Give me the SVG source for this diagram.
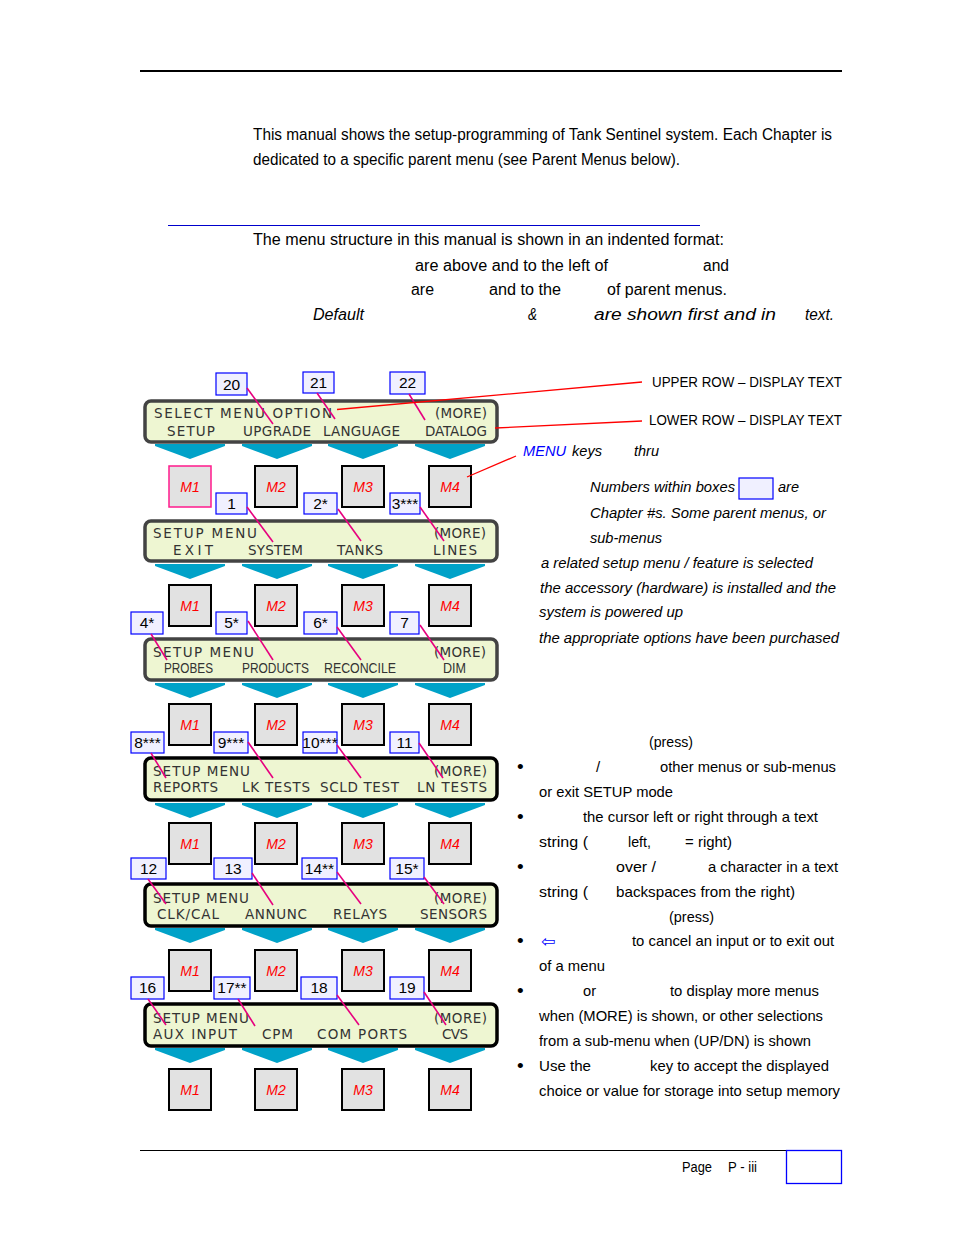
<svg xmlns="http://www.w3.org/2000/svg" xmlns:xlink="http://www.w3.org/1999/xlink" width="954" height="1235" viewBox="0 0 954 1235">
<style>
.bg{fill:#ffffff}
.panel{fill:#eef6d2;stroke:#434343;stroke-width:3.5}
.panelb{fill:#eef6d2;stroke:#000000;stroke-width:3.5}
.pt{font-family:"DejaVu Sans",sans-serif;font-size:13.5px;fill:#333333}
.pa{font-family:"Liberation Sans",Arial,sans-serif;font-size:14px;fill:#333333}
.mb{fill:#e2e2e2;stroke:#000000;stroke-width:2}
.mbp{fill:#e2e2e2;stroke:#ff1a8c;stroke-width:1.5}
.ml{font-family:"Liberation Sans",Arial,sans-serif;font-size:14px;font-style:italic;fill:#ff0000;text-anchor:middle}
.cb{fill:#f0f0ff;stroke:#0000ff;stroke-width:1.2}
.cl{font-family:"Liberation Sans",Arial,sans-serif;font-size:15.5px;fill:#000000;text-anchor:middle}
.chev{fill:#00a2c8}
.pink{stroke:#e6007e;stroke-width:1.6;fill:none}
.red{stroke:#ff0000;stroke-width:1.3;fill:none}
.tx{font-family:"Liberation Sans",Arial,sans-serif;font-size:16px;fill:#000000}
.ts{font-family:"Liberation Sans",Arial,sans-serif;font-size:15px;fill:#000000}
.bu{font-family:"Liberation Sans",Arial,sans-serif;font-size:19px;fill:#000000}
.ti{font-family:"Liberation Sans",Arial,sans-serif;font-size:15px;font-style:italic;fill:#000000}
.tf{font-family:"Liberation Sans",Arial,sans-serif;font-size:14px;fill:#000000}
</style>
<defs>
<polygon id="chev" class="chev" points="-35,0 35,0 35,2 0,15 -35,2"/>
</defs>
<rect class="bg" x="0" y="0" width="954" height="1235"/>

<!-- rules -->
<line x1="140" y1="71" x2="842" y2="71" stroke="#000" stroke-width="2"/>
<line x1="168" y1="225.5" x2="700" y2="225.5" stroke="#0000cc" stroke-width="1"/>
<line x1="140" y1="1150.5" x2="842" y2="1150.5" stroke="#000" stroke-width="1"/>
<rect x="786.5" y="1150.5" width="55" height="33" fill="none" stroke="#0000ff" stroke-width="1.3"/>

<!-- top text -->
<g id="intro">
<text class="tx" x="253" y="140" textLength="579" lengthAdjust="spacingAndGlyphs">This manual shows the setup-programming of Tank Sentinel system. Each Chapter is</text>
<text class="tx" x="253" y="165" textLength="427" lengthAdjust="spacingAndGlyphs">dedicated to a specific parent menu (see Parent Menus below).</text>
<text class="tx" x="253" y="245" textLength="471" lengthAdjust="spacingAndGlyphs">The menu structure in this manual is shown in an indented format:</text>
<text class="tx" x="415" y="271" textLength="193" lengthAdjust="spacingAndGlyphs">are above and to the left of</text>
<text class="tx" x="703" y="271" textLength="26" lengthAdjust="spacingAndGlyphs">and</text>
<text class="tx" x="411" y="295" textLength="23" lengthAdjust="spacingAndGlyphs">are</text>
<text class="tx" x="489" y="295" textLength="72" lengthAdjust="spacingAndGlyphs">and to the</text>
<text class="tx" x="607" y="295" textLength="120" lengthAdjust="spacingAndGlyphs">of parent menus.</text>
<text class="tx" x="313" y="320" font-style="italic" textLength="51" lengthAdjust="spacingAndGlyphs">Default</text>
<text class="tx" x="528" y="320" font-style="italic" textLength="9" lengthAdjust="spacingAndGlyphs">&amp;</text>
<text class="tx" x="594" y="320" font-style="italic" textLength="182" lengthAdjust="spacingAndGlyphs">are shown first and in</text>
<text class="tx" x="805" y="320" font-style="italic" textLength="29" lengthAdjust="spacingAndGlyphs">text.</text>
</g>

<!-- panels -->
<g id="panel1">
<rect class="panel" x="145" y="401" width="352" height="41" rx="6"/>
<text class="pt" x="154" y="418" textLength="178" lengthAdjust="spacing">SELECT MENU OPTION</text>
<text class="pt" x="435" y="418" textLength="52" lengthAdjust="spacing">(MORE)</text>
<text class="pt" x="167" y="436" textLength="48" lengthAdjust="spacing">SETUP</text>
<text class="pt" x="243" y="436" textLength="68" lengthAdjust="spacing">UPGRADE</text>
<text class="pt" x="323" y="436" textLength="77" lengthAdjust="spacing">LANGUAGE</text>
<text class="pt" x="425" y="436" textLength="62" lengthAdjust="spacing">DATALOG</text>
</g>
<g id="panel2">
<rect class="panel" x="145" y="521" width="352" height="40" rx="6"/>
<text class="pt" x="153" y="538" textLength="104" lengthAdjust="spacing">SETUP MENU</text>
<text class="pt" x="434" y="538" textLength="52" lengthAdjust="spacing">(MORE)</text>
<text class="pt" x="173" y="555" textLength="40" lengthAdjust="spacing">EXIT</text>
<text class="pt" x="248" y="555" textLength="55" lengthAdjust="spacing">SYSTEM</text>
<text class="pt" x="337" y="555" textLength="46" lengthAdjust="spacing">TANKS</text>
<text class="pt" x="433" y="555" textLength="44" lengthAdjust="spacing">LINES</text>
</g>
<g id="panel3">
<rect class="panel" x="145" y="639" width="352" height="41" rx="6"/>
<text class="pt" x="153" y="657" textLength="101" lengthAdjust="spacing">SETUP MENU</text>
<text class="pt" x="434" y="657" textLength="52" lengthAdjust="spacing">(MORE)</text>
<text class="pa" x="164" y="673" textLength="49" lengthAdjust="spacingAndGlyphs">PROBES</text>
<text class="pa" x="242" y="673" textLength="67" lengthAdjust="spacingAndGlyphs">PRODUCTS</text>
<text class="pa" x="324" y="673" textLength="72" lengthAdjust="spacingAndGlyphs">RECONCILE</text>
<text class="pa" x="443" y="673" textLength="23" lengthAdjust="spacingAndGlyphs">DIM</text>
</g>
<g id="panel4">
<rect class="panelb" x="145" y="758" width="352" height="42" rx="6"/>
<text class="pt" x="153" y="776" textLength="97" lengthAdjust="spacing">SETUP MENU</text>
<text class="pt" x="434" y="776" textLength="53" lengthAdjust="spacing">(MORE)</text>
<text class="pt" x="153" y="792" textLength="65" lengthAdjust="spacing">REPORTS</text>
<text class="pt" x="242" y="792" textLength="68" lengthAdjust="spacing">LK TESTS</text>
<text class="pt" x="320" y="792" textLength="79" lengthAdjust="spacing">SCLD TEST</text>
<text class="pt" x="417" y="792" textLength="70" lengthAdjust="spacing">LN TESTS</text>
</g>
<g id="panel5">
<rect class="panelb" x="145" y="884" width="352" height="42" rx="6"/>
<text class="pt" x="153" y="903" textLength="96" lengthAdjust="spacing">SETUP MENU</text>
<text class="pt" x="434" y="903" textLength="53" lengthAdjust="spacing">(MORE)</text>
<text class="pt" x="157" y="919" textLength="62" lengthAdjust="spacing">CLK/CAL</text>
<text class="pt" x="245" y="919" textLength="62" lengthAdjust="spacing">ANNUNC</text>
<text class="pt" x="333" y="919" textLength="54" lengthAdjust="spacing">RELAYS</text>
<text class="pt" x="420" y="919" textLength="67" lengthAdjust="spacing">SENSORS</text>
</g>
<g id="panel6">
<rect class="panelb" x="145" y="1004" width="352" height="42" rx="6"/>
<text class="pt" x="153" y="1023" textLength="96" lengthAdjust="spacing">SETUP MENU</text>
<text class="pt" x="434" y="1023" textLength="53" lengthAdjust="spacing">(MORE)</text>
<text class="pt" x="153" y="1039" textLength="84" lengthAdjust="spacing">AUX INPUT</text>
<text class="pt" x="262" y="1039" textLength="31" lengthAdjust="spacing">CPM</text>
<text class="pt" x="317" y="1039" textLength="90" lengthAdjust="spacing">COM PORTS</text>
<text class="pt" x="442" y="1039" textLength="26" lengthAdjust="spacing">CVS</text>
</g>

<!-- chevrons -->
<g id="chevrons">
<use xlink:href="#chev" x="190" y="444"/><use xlink:href="#chev" x="277" y="444"/><use xlink:href="#chev" x="363" y="444"/><use xlink:href="#chev" x="450" y="444"/>
<use xlink:href="#chev" x="190" y="564"/><use xlink:href="#chev" x="277" y="564"/><use xlink:href="#chev" x="363" y="564"/><use xlink:href="#chev" x="450" y="564"/>
<use xlink:href="#chev" x="190" y="683"/><use xlink:href="#chev" x="277" y="683"/><use xlink:href="#chev" x="363" y="683"/><use xlink:href="#chev" x="450" y="683"/>
<use xlink:href="#chev" x="190" y="803"/><use xlink:href="#chev" x="277" y="803"/><use xlink:href="#chev" x="363" y="803"/><use xlink:href="#chev" x="450" y="803"/>
<use xlink:href="#chev" x="190" y="928"/><use xlink:href="#chev" x="277" y="928"/><use xlink:href="#chev" x="363" y="928"/><use xlink:href="#chev" x="450" y="928"/>
<use xlink:href="#chev" x="190" y="1048"/><use xlink:href="#chev" x="277" y="1048"/><use xlink:href="#chev" x="363" y="1048"/><use xlink:href="#chev" x="450" y="1048"/>
</g>

<!-- M buttons -->
<g id="m-r1">
<g id="m1-1"><rect class="mbp" x="169" y="466" width="42" height="41"/><text class="ml" x="190" y="492">M1</text></g>
<g id="m2-1"><rect class="mb" x="255" y="466" width="42" height="41"/><text class="ml" x="276" y="492">M2</text></g>
<g id="m3-1"><rect class="mb" x="342" y="466" width="42" height="41"/><text class="ml" x="363" y="492">M3</text></g>
<g id="m4-1"><rect class="mb" x="429" y="466" width="42" height="41"/><text class="ml" x="450" y="492">M4</text></g>
</g>
<g id="m-r2">
<g id="m1-2"><rect class="mb" x="169" y="585" width="42" height="41"/><text class="ml" x="190" y="611">M1</text></g>
<g id="m2-2"><rect class="mb" x="255" y="585" width="42" height="41"/><text class="ml" x="276" y="611">M2</text></g>
<g id="m3-2"><rect class="mb" x="342" y="585" width="42" height="41"/><text class="ml" x="363" y="611">M3</text></g>
<g id="m4-2"><rect class="mb" x="429" y="585" width="42" height="41"/><text class="ml" x="450" y="611">M4</text></g>
</g>
<g id="m-r3">
<g id="m1-3"><rect class="mb" x="169" y="704" width="42" height="41"/><text class="ml" x="190" y="730">M1</text></g>
<g id="m2-3"><rect class="mb" x="255" y="704" width="42" height="41"/><text class="ml" x="276" y="730">M2</text></g>
<g id="m3-3"><rect class="mb" x="342" y="704" width="42" height="41"/><text class="ml" x="363" y="730">M3</text></g>
<g id="m4-3"><rect class="mb" x="429" y="704" width="42" height="41"/><text class="ml" x="450" y="730">M4</text></g>
</g>
<g id="m-r4">
<g id="m1-4"><rect class="mb" x="169" y="823" width="42" height="41"/><text class="ml" x="190" y="849">M1</text></g>
<g id="m2-4"><rect class="mb" x="255" y="823" width="42" height="41"/><text class="ml" x="276" y="849">M2</text></g>
<g id="m3-4"><rect class="mb" x="342" y="823" width="42" height="41"/><text class="ml" x="363" y="849">M3</text></g>
<g id="m4-4"><rect class="mb" x="429" y="823" width="42" height="41"/><text class="ml" x="450" y="849">M4</text></g>
</g>
<g id="m-r5">
<g id="m1-5"><rect class="mb" x="169" y="950" width="42" height="41"/><text class="ml" x="190" y="976">M1</text></g>
<g id="m2-5"><rect class="mb" x="255" y="950" width="42" height="41"/><text class="ml" x="276" y="976">M2</text></g>
<g id="m3-5"><rect class="mb" x="342" y="950" width="42" height="41"/><text class="ml" x="363" y="976">M3</text></g>
<g id="m4-5"><rect class="mb" x="429" y="950" width="42" height="41"/><text class="ml" x="450" y="976">M4</text></g>
</g>
<g id="m-r6">
<g id="m1-6"><rect class="mb" x="169" y="1069" width="42" height="41"/><text class="ml" x="190" y="1095">M1</text></g>
<g id="m2-6"><rect class="mb" x="255" y="1069" width="42" height="41"/><text class="ml" x="276" y="1095">M2</text></g>
<g id="m3-6"><rect class="mb" x="342" y="1069" width="42" height="41"/><text class="ml" x="363" y="1095">M3</text></g>
<g id="m4-6"><rect class="mb" x="429" y="1069" width="42" height="41"/><text class="ml" x="450" y="1095">M4</text></g>
</g>

<!-- chapter boxes -->
<g id="ch20"><rect class="cb" x="216" y="373" width="31" height="22"/><text class="cl" x="231.5" y="390">20</text></g>
<g id="ch21"><rect class="cb" x="303" y="372" width="31" height="21"/><text class="cl" x="318.5" y="388">21</text></g>
<g id="ch22"><rect class="cb" x="390" y="372" width="35" height="22"/><text class="cl" x="407.5" y="388">22</text></g>
<g id="ch1"><rect class="cb" x="216" y="493" width="31" height="21"/><text class="cl" x="231.5" y="509">1</text></g>
<g id="ch2"><rect class="cb" x="304" y="493" width="33" height="21"/><text class="cl" x="320.5" y="509">2*</text></g>
<g id="ch3"><rect class="cb" x="390" y="493" width="30" height="21"/><text class="cl" x="405" y="509">3***</text></g>
<g id="ch4"><rect class="cb" x="131" y="612" width="32" height="22"/><text class="cl" x="147" y="628">4*</text></g>
<g id="ch5"><rect class="cb" x="216" y="612" width="31" height="22"/><text class="cl" x="231.5" y="628">5*</text></g>
<g id="ch6"><rect class="cb" x="304" y="612" width="33" height="22"/><text class="cl" x="320.5" y="628">6*</text></g>
<g id="ch7"><rect class="cb" x="390" y="612" width="29" height="22"/><text class="cl" x="404.5" y="628">7</text></g>
<g id="ch8"><rect class="cb" x="131" y="732" width="33" height="21"/><text class="cl" x="147.5" y="748">8***</text></g>
<g id="ch9"><rect class="cb" x="214" y="732" width="34" height="21"/><text class="cl" x="231" y="748">9***</text></g>
<g id="ch10"><rect class="cb" x="303" y="732" width="34" height="21"/><text class="cl" x="320" y="748">10***</text></g>
<g id="ch11"><rect class="cb" x="390" y="732" width="29" height="21"/><text class="cl" x="404.5" y="748">11</text></g>
<g id="ch12"><rect class="cb" x="131" y="858" width="35" height="21"/><text class="cl" x="148.5" y="874">12</text></g>
<g id="ch13"><rect class="cb" x="214" y="858" width="38" height="21"/><text class="cl" x="233" y="874">13</text></g>
<g id="ch14"><rect class="cb" x="302" y="858" width="35" height="21"/><text class="cl" x="319.5" y="874">14**</text></g>
<g id="ch15"><rect class="cb" x="390" y="858" width="34" height="21"/><text class="cl" x="407" y="874">15*</text></g>
<g id="ch16"><rect class="cb" x="131" y="977" width="33" height="22"/><text class="cl" x="147.5" y="993">16</text></g>
<g id="ch17"><rect class="cb" x="214" y="977" width="36" height="22"/><text class="cl" x="232" y="993">17**</text></g>
<g id="ch18"><rect class="cb" x="301" y="977" width="36" height="22"/><text class="cl" x="319" y="993">18</text></g>
<g id="ch19"><rect class="cb" x="390" y="977" width="34" height="22"/><text class="cl" x="407" y="993">19</text></g>

<!-- connectors -->
<g id="connectors">
<line class="pink" x1="247" y1="388" x2="273" y2="424"/>
<line class="pink" x1="317" y1="393" x2="335" y2="419"/>
<line class="pink" x1="409" y1="394" x2="425" y2="420"/>
<line class="pink" x1="247" y1="507" x2="273" y2="542"/>
<line class="pink" x1="338" y1="509" x2="361" y2="541"/>
<line class="pink" x1="420" y1="507" x2="444" y2="541"/>
<line class="pink" x1="151" y1="634" x2="167" y2="660"/>
<line class="pink" x1="248" y1="621" x2="273" y2="660"/>
<line class="pink" x1="337" y1="627" x2="361" y2="660"/>
<line class="pink" x1="420" y1="625" x2="444" y2="660"/>
<line class="pink" x1="151" y1="753" x2="166" y2="778"/>
<line class="pink" x1="248" y1="742" x2="273" y2="778"/>
<line class="pink" x1="337" y1="745" x2="361" y2="778"/>
<line class="pink" x1="419" y1="743" x2="443" y2="778"/>
<line class="pink" x1="148" y1="879" x2="166" y2="904"/>
<line class="pink" x1="252" y1="873" x2="273" y2="905"/>
<line class="pink" x1="337" y1="872" x2="361" y2="904"/>
<line class="pink" x1="424" y1="877" x2="444" y2="904"/>
<line class="pink" x1="148" y1="999" x2="166" y2="1025"/>
<line class="pink" x1="238" y1="999" x2="255" y2="1026"/>
<line class="pink" x1="337" y1="995" x2="359" y2="1025"/>
<line class="pink" x1="424" y1="992" x2="446" y2="1025"/>
<line class="red" x1="337" y1="409.5" x2="642" y2="382"/>
<line class="red" x1="495" y1="428" x2="642" y2="421"/>
<line class="red" x1="467" y1="477" x2="516" y2="456"/>
</g>

<!-- right column -->
<g id="legend">
<text class="ts" x="652" y="387" textLength="190" lengthAdjust="spacingAndGlyphs">UPPER ROW – DISPLAY TEXT</text>
<text class="ts" x="649" y="425" textLength="193" lengthAdjust="spacingAndGlyphs">LOWER ROW – DISPLAY TEXT</text>
<text class="ti" x="523" y="456" style="fill:#0000ff" textLength="43" lengthAdjust="spacingAndGlyphs">MENU</text>
<text class="ti" x="572" y="456" textLength="30" lengthAdjust="spacingAndGlyphs">keys</text>
<text class="ti" x="634" y="456" textLength="25" lengthAdjust="spacingAndGlyphs">thru</text>
<text class="ti" x="590" y="492" textLength="145" lengthAdjust="spacingAndGlyphs">Numbers within boxes</text>
<rect class="cb" x="739" y="478" width="34" height="21"/>
<text class="ti" x="778" y="492" textLength="21" lengthAdjust="spacingAndGlyphs">are</text>
<text class="ti" x="590" y="518" textLength="236" lengthAdjust="spacingAndGlyphs">Chapter #s. Some parent menus, or</text>
<text class="ti" x="590" y="543" textLength="72" lengthAdjust="spacingAndGlyphs">sub-menus</text>
<text class="ti" x="541" y="568" textLength="272" lengthAdjust="spacingAndGlyphs">a related setup menu / feature is selected</text>
<text class="ti" x="540" y="593" textLength="296" lengthAdjust="spacingAndGlyphs">the accessory (hardware) is installed and the</text>
<text class="ti" x="539" y="617" textLength="144" lengthAdjust="spacingAndGlyphs">system is powered up</text>
<text class="ti" x="539" y="643" textLength="300" lengthAdjust="spacingAndGlyphs">the appropriate options have been purchased</text>
</g>
<g id="keys-help">
<text class="ts" x="649" y="747" textLength="44" lengthAdjust="spacingAndGlyphs">(press)</text>
<text class="bu" x="517" y="773">•</text>
<text class="ts" x="596" y="772">/</text>
<text class="ts" x="660" y="772" textLength="176" lengthAdjust="spacingAndGlyphs">other menus or sub-menus</text>
<text class="ts" x="539" y="797" textLength="134" lengthAdjust="spacingAndGlyphs">or exit SETUP mode</text>
<text class="bu" x="517" y="823">•</text>
<text class="ts" x="583" y="822" textLength="235" lengthAdjust="spacingAndGlyphs">the cursor left or right through a text</text>
<text class="ts" x="539" y="847" textLength="49" lengthAdjust="spacingAndGlyphs">string (</text>
<text class="ts" x="628" y="847" textLength="23" lengthAdjust="spacingAndGlyphs">left,</text>
<text class="ts" x="685" y="847" textLength="47" lengthAdjust="spacingAndGlyphs">= right)</text>
<text class="bu" x="517" y="873">•</text>
<text class="ts" x="616" y="872" textLength="40" lengthAdjust="spacingAndGlyphs">over /</text>
<text class="ts" x="708" y="872" textLength="130" lengthAdjust="spacingAndGlyphs">a character in a text</text>
<text class="ts" x="539" y="897" textLength="49" lengthAdjust="spacingAndGlyphs">string (</text>
<text class="ts" x="616" y="897" textLength="179" lengthAdjust="spacingAndGlyphs">backspaces from the right)</text>
<text class="ts" x="669" y="922" textLength="45" lengthAdjust="spacingAndGlyphs">(press)</text>
<text class="bu" x="517" y="947">•</text>
<text x="541" y="947" font-family="'DejaVu Sans',sans-serif" font-size="17" fill="#0000ff">⇦</text>
<text class="ts" x="632" y="946" textLength="202" lengthAdjust="spacingAndGlyphs">to cancel an input or to exit out</text>
<text class="ts" x="539" y="971" textLength="66" lengthAdjust="spacingAndGlyphs">of a menu</text>
<text class="bu" x="517" y="997">•</text>
<text class="ts" x="583" y="996" textLength="13" lengthAdjust="spacingAndGlyphs">or</text>
<text class="ts" x="670" y="996" textLength="149" lengthAdjust="spacingAndGlyphs">to display more menus</text>
<text class="ts" x="539" y="1021" textLength="284" lengthAdjust="spacingAndGlyphs">when (MORE) is shown, or other selections</text>
<text class="ts" x="539" y="1046" textLength="272" lengthAdjust="spacingAndGlyphs">from a sub-menu when (UP/DN) is shown</text>
<text class="bu" x="517" y="1072">•</text>
<text class="ts" x="539" y="1071" textLength="52" lengthAdjust="spacingAndGlyphs">Use the</text>
<text class="ts" x="650" y="1071" textLength="179" lengthAdjust="spacingAndGlyphs">key to accept the displayed</text>
<text class="ts" x="539" y="1096" textLength="301" lengthAdjust="spacingAndGlyphs">choice or value for storage into setup memory</text>
</g>
<g id="footer">
<text class="tf" x="682" y="1172" textLength="30" lengthAdjust="spacingAndGlyphs">Page</text>
<text class="tf" x="728" y="1172" textLength="29" lengthAdjust="spacingAndGlyphs">P - iii</text>
</g>
</svg>
